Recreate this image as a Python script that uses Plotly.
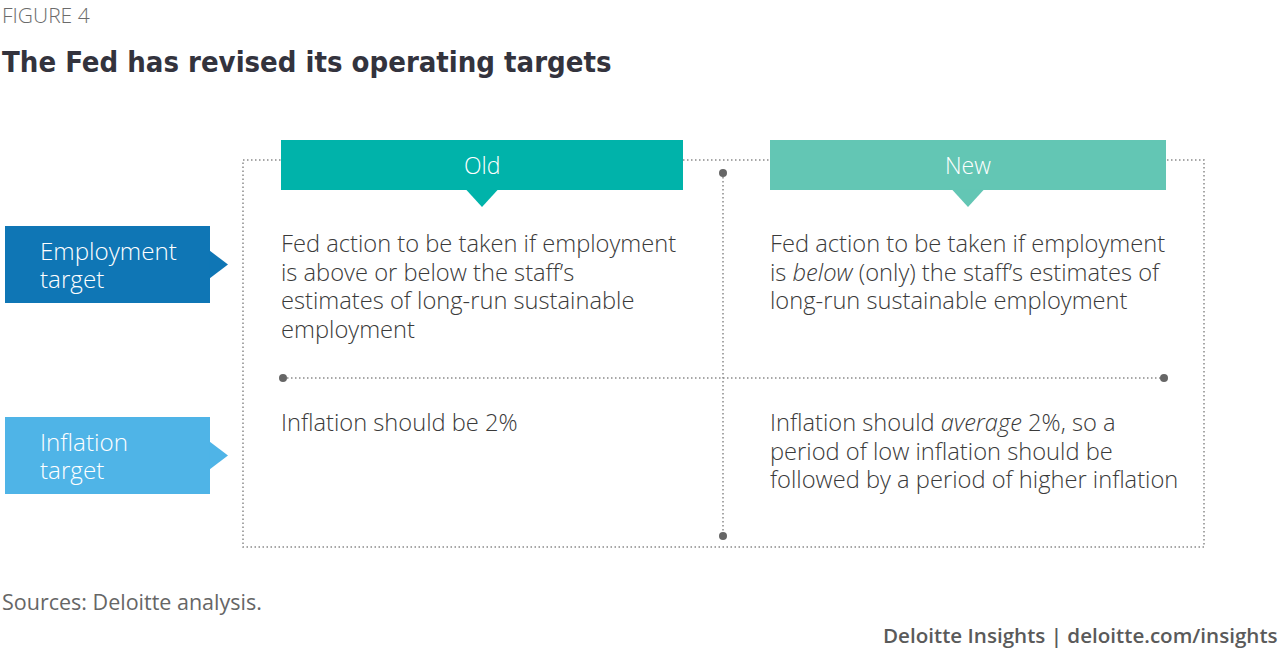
import plotly.graph_objects as go

# ---- data ----
figure_label = "FIGURE 4"
title_text = "The Fed has revised its operating targets"
column_labels = ["Old", "New"]
row_labels = [["Employment", "target"], ["Inflation", "target"]]
cell_lines = [
    [["Fed action to be taken if employment", "is above or below the staff’s",
      "estimates of long-run sustainable", "employment"],
     ["Fed action to be taken if employment", "is <i>below</i> (only) the staff’s estimates of",
      "long-run sustainable employment"]],
    [["Inflation should be 2%"],
     ["Inflation should <i>average</i> 2%, so a", "period of low inflation should be",
      "followed by a period of higher inflation"]],
]
source_text = "Sources: Deloitte analysis."
footer_text = "Deloitte Insights | deloitte.com/insights"

# ---- layout geometry (pixels) ----
W, H = 1280, 669
col_hdr = [(281, 683), (770, 1166)]
col_hdr_colors = ["#00b3aa", "#63c6b4"]
hdr_y = (140, 190)
row_box = [(226, 303), (417, 494)]
row_colors = ["#0f76b5", "#4fb4e7"]
box_x = (5, 210)
frame = (243, 160, 1204, 547)
text_x = [279, 768]
first_line_y = [243, 422]
line_step = 28.7
dot_color = "#8a8a8a"
end_color = "#666666"
DOT = dict(color=dot_color, width=1.5, dash="1.5px,2.5px")

FONT = "Open Sans"
shapes = []
annotations = []

# outer dotted frame
x0, y0, x1, y1 = frame
shapes.append(dict(type="rect", x0=x0, y0=y0, x1=x1, y1=y1, layer="below", line=DOT))
# dividers
shapes.append(dict(type="line", x0=723, y0=173, x1=723, y1=536, line=DOT))
shapes.append(dict(type="line", x0=283, y0=378, x1=1164, y1=378, line=DOT))
for (cx, cy) in [(723, 173), (723, 536), (283, 378), (1164, 378)]:
    shapes.append(dict(type="circle", x0=cx - 4, y0=cy - 4, x1=cx + 4, y1=cy + 4,
                       fillcolor=end_color, line=dict(width=0)))

# column headers
for (hx0, hx1), col, lab in zip(col_hdr, col_hdr_colors, column_labels):
    shapes.append(dict(type="rect", x0=hx0, y0=hdr_y[0], x1=hx1, y1=hdr_y[1],
                       fillcolor=col, line=dict(width=0)))
    cx = (hx0 + hx1) / 2
    shapes.append(dict(type="path",
                       path=f"M {cx-16},{hdr_y[1]-0.5} L {cx},{hdr_y[1]+17} L {cx+16},{hdr_y[1]-0.5} Z",
                       fillcolor=col, line=dict(width=0)))
    annotations.append(dict(x=cx, y=(hdr_y[0] + hdr_y[1]) / 2, text=lab, showarrow=False,
                            xanchor="center", yanchor="middle",
                            font=dict(family=FONT, size=23, color="white", weight=300)))

# row labels
for (ry0, ry1), col, lines in zip(row_box, row_colors, row_labels):
    shapes.append(dict(type="rect", x0=box_x[0], y0=ry0, x1=box_x[1], y1=ry1,
                       fillcolor=col, line=dict(width=0)))
    cy = (ry0 + ry1) / 2
    shapes.append(dict(type="path",
                       path=f"M {box_x[1]-0.5},{cy-14} L {box_x[1]+18},{cy} L {box_x[1]-0.5},{cy+14} Z",
                       fillcolor=col, line=dict(width=0)))
    for i, ln in enumerate(lines):
        annotations.append(dict(x=38, y=cy - 14.5 + i * 28.7, text=ln, showarrow=False,
                                xanchor="left", yanchor="middle",
                                font=dict(family=FONT, size=24.2, color="white", weight=300)))

# cells
for r, row in enumerate(cell_lines):
    for c, lines in enumerate(row):
        for i, ln in enumerate(lines):
            annotations.append(dict(x=text_x[c], y=first_line_y[r] + i * line_step, text=ln,
                                    showarrow=False, xanchor="left", yanchor="middle",
                                    font=dict(family=FONT, size=23.7, color="#3a3a3a", weight=300)))

# titles and footers
annotations.append(dict(x=0, y=15, text=figure_label, showarrow=False, xanchor="left",
                        yanchor="middle", font=dict(family=FONT, size=21, color="#6b6b6b", weight=300)))
annotations.append(dict(x=0, y=62, text=f"<b>{title_text}</b>", showarrow=False, xanchor="left",
                        yanchor="middle",
                        font=dict(family="DejaVu Sans Condensed", size=29, color="#33333d")))
annotations.append(dict(x=0, y=601, text=source_text, showarrow=False, xanchor="left",
                        yanchor="middle", font=dict(family=FONT, size=21.5, color="#666666")))
annotations.append(dict(x=1280, y=635, text=footer_text, showarrow=False, xanchor="right",
                        yanchor="middle", font=dict(family=FONT, size=20.6, color="#5a5a5a", weight=600)))

fig = go.Figure()
fig.update_layout(
    width=W, height=H, margin=dict(l=0, r=0, t=0, b=0),
    paper_bgcolor="white", plot_bgcolor="white",
    xaxis=dict(range=[0, W], visible=False, fixedrange=True),
    yaxis=dict(range=[H, 0], visible=False, fixedrange=True),
    shapes=shapes, annotations=annotations, showlegend=False,
)
fig.write_html("out.html", config={"displayModeBar": False},
               post_script="document.body.style.margin='0';")
